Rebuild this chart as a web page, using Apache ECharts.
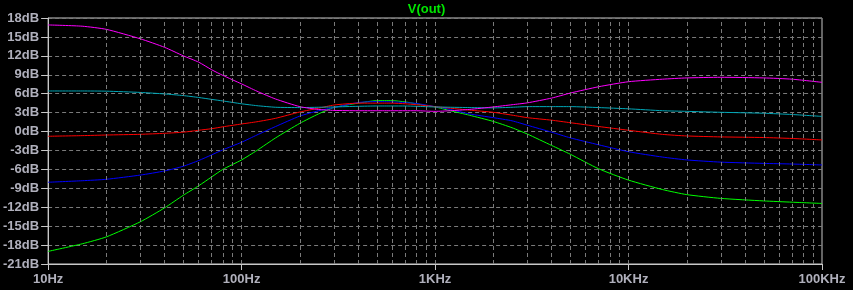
<!DOCTYPE html>
<html>
<head>
<meta charset="utf-8">
<script src="https://cdn.jsdelivr.net/npm/echarts@6/dist/echarts.min.js"></script>
<style>
html,body{margin:0;padding:0;background:#000;}
#c{width:853px;height:290px;}
</style>
</head>
<body>
<div id="c"></div>
<script>
// Frequencies (Hz)
var freq = [10,15,20,30,40,50,60,70,80,100,120,150,200,250,300,400,500,600,700,800,1000,1200,1500,2000,2500,3000,4000,5000,7000,10000,15000,20000,30000,50000,70000,100000];
// Gain (dB) for each stepped trace
var magenta = [16.9,16.7,16.2,14.7,13.35,12.0,11.0,9.8,8.9,7.55,6.4,5.15,3.95,3.5,3.35,3.3,3.3,3.3,3.3,3.3,3.2,3.3,3.5,3.9,4.25,4.55,5.3,6.1,7.1,7.9,8.3,8.5,8.6,8.5,8.3,7.8];
var cyan    = [6.43,6.43,6.4,6.2,5.96,5.7,5.4,5.1,4.85,4.4,4.1,3.85,3.8,3.85,3.9,4.0,4.05,4.05,4.05,4.0,3.9,3.85,3.8,3.75,3.85,3.95,3.95,3.95,3.8,3.6,3.3,3.2,3.05,2.9,2.7,2.4];
var red     = [-0.75,-0.65,-0.55,-0.44,-0.28,-0.1,0.2,0.45,0.75,1.2,1.55,2.1,3.1,3.7,4.2,4.5,4.5,4.5,4.4,4.25,3.95,3.7,3.4,3.05,2.6,2.2,1.8,1.4,0.8,0.2,-0.45,-0.7,-0.85,-0.95,-1.1,-1.33];
var blue    = [-8.04,-7.8,-7.57,-6.9,-6.25,-5.5,-4.6,-3.7,-2.9,-1.7,-0.55,0.8,2.45,3.3,3.8,4.6,4.75,4.7,4.6,4.45,3.95,3.5,2.8,2.2,1.7,1.0,-0.1,-1.0,-2.1,-3.2,-4.05,-4.5,-4.85,-5.05,-5.15,-5.3];
var green   = [-19.0,-17.8,-16.7,-14.3,-12.1,-10.1,-8.6,-7.2,-6.0,-4.5,-3.0,-1.0,1.3,2.8,3.8,4.5,4.9,4.9,4.7,4.4,3.9,3.3,2.6,1.6,0.6,-0.4,-2.2,-3.6,-5.9,-7.7,-9.2,-10.0,-10.6,-11.0,-11.2,-11.4];
// Axis labels
var xTickValues = [10,100,1000,10000,100000];
var xTickLabels = ['10Hz','100Hz','1KHz','10KHz','100KHz'];
var yUnit = 'dB';

function pairs(v){ return freq.map(function(f,i){ return [f, v[i]]; }); }

// minor vertical grid positions (2..9 per decade) plus inner decades
var minorGrid = [];
for (var d = 10; d < 100000; d *= 10) {
  for (var m = 2; m <= 9; m++) minorGrid.push({xAxis: d*m});
}
for (var k = 1; k < xTickValues.length - 1; k++) minorGrid.push({xAxis: xTickValues[k]});

var FONT = '"Liberation Sans", Arial, sans-serif';
var labelColor = '#b0b0bc';
var frameColor = '#c8c8c8';
var gridColor = '#7a7a7a';

function line(name, data, color) {
  return {
    name: name, type: 'line', data: pairs(data), showSymbol: false, symbol: 'none',
    smooth: 0.2,
    lineStyle: {color: color, width: 1}, silent: true, animation: false
  };
}

var chart = echarts.init(document.getElementById('c'), null, {renderer: 'canvas'});
chart.setOption({
  backgroundColor: '#000',
  animation: false,
  title: {
    text: 'V(out)', left: 'center', top: -2,
    textStyle: {color: '#00e600', fontSize: 13, fontWeight: 'bold', fontFamily: FONT}
  },
  grid: {left: 43, right: 31, top: 18, bottom: 26, show: true, borderColor: frameColor, borderWidth: 1},
  xAxis: {
    type: 'log', logBase: 10, min: 10, max: 100000,
    axisLine: {show: true, onZero: false, lineStyle: {color: frameColor}},
    axisTick: {show: true, length: 6, lineStyle: {color: frameColor}},
    axisLabel: {
      color: labelColor, fontSize: 13, fontWeight: 'bold', fontFamily: FONT, margin: 9,
      formatter: function(v){ var i = xTickValues.indexOf(Math.round(v)); return i >= 0 ? xTickLabels[i] : ''; }
    },
    splitLine: {show: false}
  },
  yAxis: {
    type: 'value', min: -21, max: 18, interval: 3,
    axisLine: {show: true, onZero: false, lineStyle: {color: frameColor}},
    axisTick: {show: true, length: 7, lineStyle: {color: frameColor}},
    axisLabel: {
      color: labelColor, fontSize: 13, fontWeight: 'bold', fontFamily: FONT, margin: 9,
      formatter: function(v){ return v + yUnit; }
    },
    splitLine: {show: true, lineStyle: {color: gridColor, type: [4, 3], width: 1}}
  },
  series: [
    {
      type: 'line', data: [], silent: true,
      markLine: {
        silent: true, symbol: ['none','none'], animation: false,
        label: {show: false},
        lineStyle: {color: gridColor, type: [4, 3], width: 1},
        data: minorGrid
      }
    },
    line('green', green, '#00ff00'),
    line('blue', blue, '#0000ff'),
    line('red', red, '#ff0000'),
    line('cyan', cyan, '#00a8b8'),
    line('magenta', magenta, '#ff00ff')
  ]
});
</script>
</body>
</html>
